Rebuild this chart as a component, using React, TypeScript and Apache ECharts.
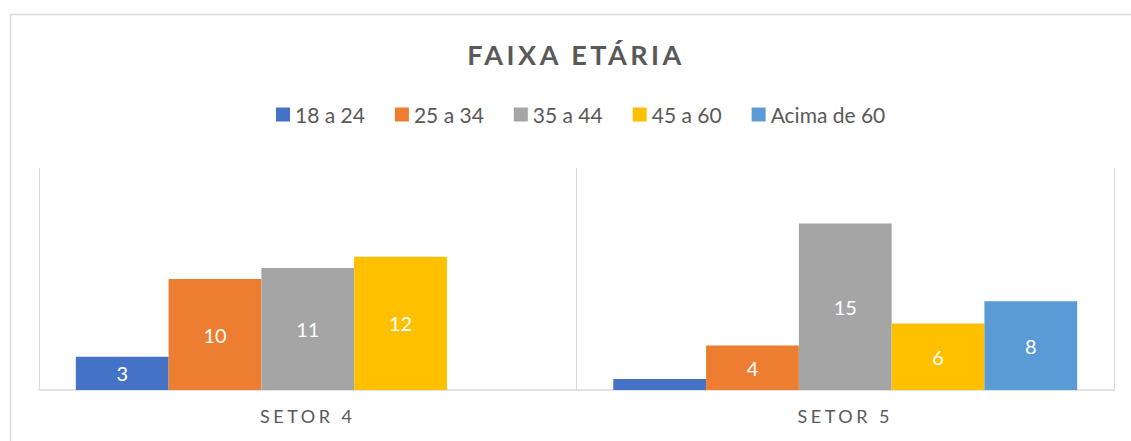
import React, { useEffect, useRef } from "react";
import * as echarts from "echarts";

const categories = ["SETOR 4", "SETOR 5"];
const seriesNames = ["18 a 24", "25 a 34", "35 a 44", "45 a 60", "Acima de 60"];
const s18a24 = [3, 1];
const s25a34 = [10, 4];
const s35a44 = [11, 15];
const s45a60 = [12, 6];
const sAcima60: (number | null)[] = [null, 8];
const hiddenLabels = [[false, true], [false, false], [false, false], [false, false], [false, false]];
const colors = ["#4472C4", "#ED7D31", "#A5A5A5", "#FFC000", "#5B9BD5"];

const allValues = [s18a24, s25a34, s35a44, s45a60, sAcima60];

export default function App() {
  const ref = useRef<HTMLDivElement>(null);
  useEffect(() => {
    if (!ref.current) return;
    const chart = echarts.init(ref.current, undefined, { renderer: "svg" });
    const series = seriesNames.map((name, i) => ({
      name,
      type: "bar" as const,
      barGap: "0%",
      barCategoryGap: "13.7%",
      itemStyle: { color: colors[i] },
      label: {
        show: true,
        position: "inside" as const,
        color: "#ffffff",
        fontSize: 20,
        fontFamily: "Lato",
      },
      data: allValues[i].map((v, j) =>
        v === null
          ? null
          : hiddenLabels[i][j]
          ? { value: v, label: { show: false } }
          : v
      ),
    }));
    chart.setOption({
      animation: false,
      backgroundColor: "#ffffff",
      title: {
        text: "FAIXA ETÁRIA",
        left: 571,
        top: 36,
        textAlign: "center",
        textStyle: {
          fontFamily: "Lato, sans-serif",
          fontWeight: "bold",
          fontSize: 27,
          color: "#595959",
        },
      },
      legend: {
        data: seriesNames,
        left: 271,
        top: 99,
        itemWidth: 14,
        itemHeight: 14,
        itemGap: 30,
        icon: "rect",
        textStyle: { fontFamily: "Lato", fontSize: 21, color: "#595959" },
      },
      graphic: [
        {
          type: "rect",
          shape: { x: 10.5, y: 14.5, width: 1150, height: 450 },
          style: { fill: "none", stroke: "#d9d9d9", lineWidth: 1.5 },
          silent: true,
        },
      ],
      grid: { left: 39, right: 17, top: 168, bottom: 51 },
      xAxis: {
        type: "category",
        data: categories,
        axisLine: { show: true, lineStyle: { color: "#d9d9d9", width: 1.5 } },
        axisTick: { show: false },
        splitLine: { show: true, lineStyle: { color: "#d9d9d9", width: 1 } },
        axisLabel: {
          margin: 17,
          fontFamily: "Lato, sans-serif",
          fontSize: 18,
          color: "#595959",
        },
      },
      yAxis: {
        type: "value",
        min: 0,
        max: 20,
        show: false,
        splitLine: { show: false },
      },
      series,
    });
    return () => chart.dispose();
  }, []);
  return (
    <div className="cx">
      <style>{`.cx text[style*="sans-serif"]{letter-spacing:3.5px}`}</style>
      <div
        ref={ref}
        style={{ position: "absolute", left: 0, top: 0, width: 1131, height: 441 }}
      />
    </div>
  );
}
